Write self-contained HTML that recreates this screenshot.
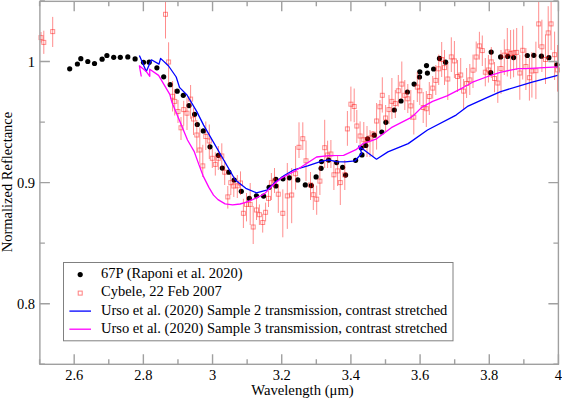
<!DOCTYPE html>
<html><head><meta charset="utf-8"><style>
html,body{margin:0;padding:0;background:#fff;width:562px;height:399px;overflow:hidden}
svg{display:block}
</style></head><body>
<svg width="562" height="399" viewBox="0 0 562 399">
<g fill="#000">
<circle cx="69.7" cy="68.8" r="2.6"/>
<circle cx="77.4" cy="64.0" r="2.6"/>
<circle cx="80.8" cy="58.7" r="2.6"/>
<circle cx="87.8" cy="61.5" r="2.6"/>
<circle cx="94.5" cy="63.5" r="2.6"/>
<circle cx="102.1" cy="59.2" r="2.6"/>
<circle cx="106.9" cy="55.5" r="2.6"/>
<circle cx="113.7" cy="57.3" r="2.6"/>
<circle cx="120.3" cy="57.3" r="2.6"/>
<circle cx="127.8" cy="56.9" r="2.6"/>
<circle cx="135.1" cy="58.9" r="2.6"/>
<circle cx="143.5" cy="62.3" r="2.6"/>
<circle cx="149.2" cy="62.2" r="2.6"/>
<circle cx="156.9" cy="67.8" r="2.6"/>
<circle cx="163.7" cy="76.8" r="2.6"/>
<circle cx="170.2" cy="84.7" r="2.6"/>
<circle cx="177.2" cy="91.2" r="2.6"/>
<circle cx="183.3" cy="95.3" r="2.6"/>
<circle cx="189.0" cy="105.6" r="2.6"/>
<circle cx="194.6" cy="114.3" r="2.6"/>
<circle cx="197.3" cy="124.5" r="2.6"/>
<circle cx="203.3" cy="130.9" r="2.6"/>
<circle cx="210.0" cy="146.8" r="2.6"/>
<circle cx="218.3" cy="155.3" r="2.6"/>
<circle cx="222.3" cy="168.1" r="2.6"/>
<circle cx="228.8" cy="172.2" r="2.6"/>
<circle cx="234.2" cy="180.0" r="2.6"/>
<circle cx="241.3" cy="191.3" r="2.6"/>
<circle cx="249.3" cy="198.4" r="2.6"/>
<circle cx="256.4" cy="195.8" r="2.6"/>
<circle cx="263.6" cy="196.1" r="2.6"/>
<circle cx="269.1" cy="187.3" r="2.6"/>
<circle cx="275.9" cy="179.3" r="2.6"/>
<circle cx="275.9" cy="186.0" r="2.6"/>
<circle cx="283.0" cy="178.8" r="2.6"/>
<circle cx="289.4" cy="177.8" r="2.6"/>
<circle cx="297.8" cy="179.9" r="2.6"/>
<circle cx="305.3" cy="184.9" r="2.6"/>
<circle cx="311.3" cy="185.6" r="2.6"/>
<circle cx="316.1" cy="176.9" r="2.6"/>
<circle cx="321.1" cy="168.3" r="2.6"/>
<circle cx="321.5" cy="161.6" r="2.6"/>
<circle cx="328.6" cy="160.1" r="2.6"/>
<circle cx="336.6" cy="162.6" r="2.6"/>
<circle cx="342.6" cy="167.3" r="2.6"/>
<circle cx="345.6" cy="175.1" r="2.6"/>
<circle cx="355.6" cy="160.3" r="2.6"/>
<circle cx="362.0" cy="154.9" r="2.6"/>
<circle cx="361.2" cy="147.8" r="2.6"/>
<circle cx="365.8" cy="145.5" r="2.6"/>
<circle cx="367.6" cy="138.8" r="2.6"/>
<circle cx="374.3" cy="135.2" r="2.6"/>
<circle cx="381.8" cy="132.0" r="2.6"/>
<circle cx="385.9" cy="122.3" r="2.6"/>
<circle cx="394.3" cy="110.0" r="2.6"/>
<circle cx="401.0" cy="101.0" r="2.6"/>
<circle cx="407.4" cy="92.0" r="2.6"/>
<circle cx="414.1" cy="84.1" r="2.6"/>
<circle cx="419.5" cy="77.0" r="2.6"/>
<circle cx="419.8" cy="71.8" r="2.6"/>
<circle cx="426.5" cy="65.6" r="2.6"/>
<circle cx="427.4" cy="73.1" r="2.6"/>
<circle cx="433.6" cy="69.0" r="2.6"/>
<circle cx="439.5" cy="58.4" r="2.6"/>
<circle cx="445.6" cy="62.2" r="2.6"/>
<circle cx="491.2" cy="52.1" r="2.6"/>
<circle cx="490.7" cy="72.7" r="2.6"/>
<circle cx="500.6" cy="56.9" r="2.6"/>
<circle cx="507.8" cy="56.4" r="2.6"/>
<circle cx="513.6" cy="57.6" r="2.6"/>
<circle cx="527.3" cy="55.5" r="2.6"/>
<circle cx="533.8" cy="55.3" r="2.6"/>
<circle cx="541.4" cy="56.2" r="2.6"/>
<circle cx="548.9" cy="57.7" r="2.6"/>
<circle cx="556.9" cy="64.8" r="2.6"/>
</g>
<g stroke="#ff0000" stroke-opacity="0.45" stroke-width="1" fill="none">
<line x1="41.0" y1="32.0" x2="41.0" y2="42.6"/>
<line x1="43.8" y1="30.7" x2="43.8" y2="53.9"/>
<line x1="52.7" y1="16.9" x2="52.7" y2="47.0"/>
<line x1="165.5" y1="1.0" x2="165.5" y2="38.5"/>
<line x1="168.6" y1="42.3" x2="168.6" y2="85.0"/>
<line x1="172.6" y1="81.0" x2="172.6" y2="111.5"/>
<line x1="174.7" y1="89.0" x2="174.7" y2="115.5"/>
<line x1="178.0" y1="100.0" x2="178.0" y2="123.0"/>
<line x1="181.0" y1="117.0" x2="181.0" y2="140.0"/>
<line x1="183.7" y1="100.8" x2="183.7" y2="125.6"/>
<line x1="187.0" y1="97.4" x2="187.0" y2="130.0"/>
<line x1="190.6" y1="85.0" x2="190.6" y2="118.8"/>
<line x1="193.5" y1="107.6" x2="193.5" y2="135.0"/>
<line x1="196.8" y1="120.0" x2="196.8" y2="153.0"/>
<line x1="199.8" y1="127.5" x2="199.8" y2="163.6"/>
<line x1="202.8" y1="144.8" x2="202.8" y2="177.0"/>
<line x1="205.8" y1="121.5" x2="205.8" y2="150.0"/>
<line x1="209.3" y1="124.5" x2="209.3" y2="159.0"/>
<line x1="212.3" y1="148.6" x2="212.3" y2="168.0"/>
<line x1="215.3" y1="152.3" x2="215.3" y2="175.6"/>
<line x1="218.3" y1="146.0" x2="218.3" y2="170.0"/>
<line x1="221.8" y1="143.3" x2="221.8" y2="169.6"/>
<line x1="224.7" y1="160.0" x2="224.7" y2="185.0"/>
<line x1="227.8" y1="186.0" x2="227.8" y2="208.6"/>
<line x1="230.8" y1="174.0" x2="230.8" y2="195.0"/>
<line x1="233.8" y1="176.0" x2="233.8" y2="197.0"/>
<line x1="237.3" y1="175.0" x2="237.3" y2="198.0"/>
<line x1="240.5" y1="171.4" x2="240.5" y2="195.0"/>
<line x1="243.4" y1="198.8" x2="243.4" y2="228.0"/>
<line x1="246.5" y1="193.0" x2="246.5" y2="221.4"/>
<line x1="250.2" y1="183.0" x2="250.2" y2="225.0"/>
<line x1="253.2" y1="206.0" x2="253.2" y2="244.0"/>
<line x1="256.5" y1="198.8" x2="256.5" y2="220.0"/>
<line x1="259.4" y1="204.4" x2="259.4" y2="225.0"/>
<line x1="262.7" y1="213.8" x2="262.7" y2="232.6"/>
<line x1="265.6" y1="202.6" x2="265.6" y2="221.4"/>
<line x1="268.5" y1="191.0" x2="268.5" y2="207.0"/>
<line x1="271.4" y1="173.0" x2="271.4" y2="200.0"/>
<line x1="274.5" y1="168.0" x2="274.5" y2="193.0"/>
<line x1="278.3" y1="183.8" x2="278.3" y2="212.9"/>
<line x1="282.8" y1="189.4" x2="282.8" y2="237.3"/>
<line x1="287.3" y1="163.0" x2="287.3" y2="228.9"/>
<line x1="291.7" y1="168.0" x2="291.7" y2="223.2"/>
<line x1="295.6" y1="146.0" x2="295.6" y2="189.6"/>
<line x1="299.0" y1="122.3" x2="299.0" y2="158.0"/>
<line x1="302.8" y1="122.3" x2="302.8" y2="150.0"/>
<line x1="306.0" y1="140.5" x2="306.0" y2="181.0"/>
<line x1="310.5" y1="172.0" x2="310.5" y2="200.0"/>
<line x1="313.3" y1="183.8" x2="313.3" y2="210.0"/>
<line x1="316.7" y1="185.6" x2="316.7" y2="214.8"/>
<line x1="319.9" y1="165.0" x2="319.9" y2="195.0"/>
<line x1="324.7" y1="119.8" x2="324.7" y2="168.0"/>
<line x1="327.6" y1="140.7" x2="327.6" y2="168.0"/>
<line x1="330.9" y1="140.0" x2="330.9" y2="168.0"/>
<line x1="333.9" y1="160.0" x2="333.9" y2="190.0"/>
<line x1="337.6" y1="155.0" x2="337.6" y2="186.0"/>
<line x1="340.3" y1="168.0" x2="340.3" y2="205.0"/>
<line x1="344.8" y1="160.0" x2="344.8" y2="190.0"/>
<line x1="347.4" y1="111.0" x2="347.4" y2="145.8"/>
<line x1="350.9" y1="86.6" x2="350.9" y2="121.4"/>
<line x1="354.2" y1="88.5" x2="354.2" y2="122.3"/>
<line x1="356.8" y1="110.0" x2="356.8" y2="143.0"/>
<line x1="360.1" y1="121.4" x2="360.1" y2="149.5"/>
<line x1="363.8" y1="122.0" x2="363.8" y2="150.0"/>
<line x1="367.0" y1="126.0" x2="367.0" y2="157.0"/>
<line x1="370.0" y1="130.0" x2="370.0" y2="157.0"/>
<line x1="373.0" y1="131.0" x2="373.0" y2="156.0"/>
<line x1="376.6" y1="103.0" x2="376.6" y2="149.6"/>
<line x1="379.9" y1="100.0" x2="379.9" y2="130.0"/>
<line x1="382.3" y1="77.3" x2="382.3" y2="112.6"/>
<line x1="385.6" y1="105.0" x2="385.6" y2="131.0"/>
<line x1="389.0" y1="95.0" x2="389.0" y2="124.0"/>
<line x1="391.9" y1="78.0" x2="391.9" y2="119.0"/>
<line x1="395.3" y1="90.0" x2="395.3" y2="118.0"/>
<line x1="398.3" y1="75.0" x2="398.3" y2="106.6"/>
<line x1="401.8" y1="61.5" x2="401.8" y2="99.0"/>
<line x1="404.8" y1="80.0" x2="404.8" y2="110.0"/>
<line x1="407.8" y1="84.0" x2="407.8" y2="113.0"/>
<line x1="410.8" y1="90.0" x2="410.8" y2="120.0"/>
<line x1="413.8" y1="100.0" x2="413.8" y2="134.5"/>
<line x1="417.3" y1="72.0" x2="417.3" y2="102.0"/>
<line x1="419.8" y1="76.0" x2="419.8" y2="105.0"/>
<line x1="423.2" y1="92.0" x2="423.2" y2="123.0"/>
<line x1="426.3" y1="91.0" x2="426.3" y2="127.0"/>
<line x1="429.3" y1="82.0" x2="429.3" y2="115.0"/>
<line x1="432.7" y1="76.0" x2="432.7" y2="98.6"/>
<line x1="435.8" y1="65.0" x2="435.8" y2="95.0"/>
<line x1="438.7" y1="54.6" x2="438.7" y2="85.0"/>
<line x1="441.7" y1="42.0" x2="441.7" y2="77.0"/>
<line x1="444.5" y1="50.0" x2="444.5" y2="85.0"/>
<line x1="447.8" y1="62.0" x2="447.8" y2="100.0"/>
<line x1="451.3" y1="37.3" x2="451.3" y2="72.0"/>
<line x1="454.4" y1="41.0" x2="454.4" y2="78.0"/>
<line x1="457.5" y1="60.0" x2="457.5" y2="92.0"/>
<line x1="460.7" y1="58.0" x2="460.7" y2="90.0"/>
<line x1="463.6" y1="79.0" x2="463.6" y2="109.0"/>
<line x1="466.6" y1="68.0" x2="466.6" y2="98.0"/>
<line x1="469.8" y1="64.0" x2="469.8" y2="95.0"/>
<line x1="473.0" y1="54.6" x2="473.0" y2="88.0"/>
<line x1="476.2" y1="41.5" x2="476.2" y2="71.6"/>
<line x1="479.4" y1="31.8" x2="479.4" y2="59.6"/>
<line x1="482.3" y1="35.5" x2="482.3" y2="66.0"/>
<line x1="485.3" y1="58.0" x2="485.3" y2="86.3"/>
<line x1="488.4" y1="55.0" x2="488.4" y2="82.6"/>
<line x1="491.3" y1="47.0" x2="491.3" y2="78.0"/>
<line x1="494.5" y1="62.0" x2="494.5" y2="92.3"/>
<line x1="497.8" y1="66.0" x2="497.8" y2="102.9"/>
<line x1="501.0" y1="50.0" x2="501.0" y2="93.8"/>
<line x1="504.3" y1="39.3" x2="504.3" y2="75.0"/>
<line x1="507.3" y1="28.0" x2="507.3" y2="76.5"/>
<line x1="510.6" y1="30.0" x2="510.6" y2="78.8"/>
<line x1="513.6" y1="29.5" x2="513.6" y2="77.3"/>
<line x1="516.7" y1="28.0" x2="516.7" y2="70.1"/>
<line x1="519.8" y1="55.0" x2="519.8" y2="99.8"/>
<line x1="522.7" y1="25.8" x2="522.7" y2="79.5"/>
<line x1="525.9" y1="48.0" x2="525.9" y2="90.0"/>
<line x1="529.4" y1="58.0" x2="529.4" y2="100.6"/>
<line x1="531.9" y1="52.0" x2="531.9" y2="97.6"/>
<line x1="535.9" y1="41.7" x2="535.9" y2="99.1"/>
<line x1="538.7" y1="1.0" x2="538.7" y2="48.0"/>
<line x1="541.9" y1="19.7" x2="541.9" y2="72.0"/>
<line x1="545.5" y1="34.4" x2="545.5" y2="84.0"/>
<line x1="548.2" y1="6.2" x2="548.2" y2="58.0"/>
<line x1="551.1" y1="1.0" x2="551.1" y2="50.0"/>
<line x1="554.6" y1="31.6" x2="554.6" y2="80.0"/>
<line x1="557.5" y1="45.0" x2="557.5" y2="91.6"/>
<rect x="39.0" y="35.6" width="4" height="4"/>
<rect x="41.8" y="40.4" width="4" height="4"/>
<rect x="50.7" y="29.6" width="4" height="4"/>
<rect x="163.5" y="12.3" width="4" height="4"/>
<rect x="166.6" y="60.0" width="4" height="4"/>
<rect x="170.6" y="94.3" width="4" height="4"/>
<rect x="172.7" y="99.4" width="4" height="4"/>
<rect x="176.0" y="109.5" width="4" height="4"/>
<rect x="179.0" y="125.8" width="4" height="4"/>
<rect x="181.7" y="107.6" width="4" height="4"/>
<rect x="185.0" y="111.2" width="4" height="4"/>
<rect x="188.6" y="97.1" width="4" height="4"/>
<rect x="191.5" y="117.0" width="4" height="4"/>
<rect x="194.8" y="133.0" width="4" height="4"/>
<rect x="197.8" y="148.0" width="4" height="4"/>
<rect x="200.8" y="163.9" width="4" height="4"/>
<rect x="203.8" y="134.5" width="4" height="4"/>
<rect x="207.3" y="139.0" width="4" height="4"/>
<rect x="210.3" y="156.3" width="4" height="4"/>
<rect x="213.3" y="162.4" width="4" height="4"/>
<rect x="216.3" y="156.3" width="4" height="4"/>
<rect x="219.8" y="154.0" width="4" height="4"/>
<rect x="222.7" y="170.2" width="4" height="4"/>
<rect x="225.8" y="194.9" width="4" height="4"/>
<rect x="228.8" y="180.7" width="4" height="4"/>
<rect x="231.8" y="184.0" width="4" height="4"/>
<rect x="235.3" y="183.8" width="4" height="4"/>
<rect x="238.5" y="181.0" width="4" height="4"/>
<rect x="241.4" y="211.3" width="4" height="4"/>
<rect x="244.5" y="202.4" width="4" height="4"/>
<rect x="248.2" y="202.4" width="4" height="4"/>
<rect x="251.2" y="225.0" width="4" height="4"/>
<rect x="254.5" y="208.0" width="4" height="4"/>
<rect x="257.4" y="212.7" width="4" height="4"/>
<rect x="260.7" y="220.5" width="4" height="4"/>
<rect x="263.6" y="210.3" width="4" height="4"/>
<rect x="266.5" y="196.4" width="4" height="4"/>
<rect x="269.4" y="180.7" width="4" height="4"/>
<rect x="272.5" y="179.0" width="4" height="4"/>
<rect x="276.3" y="192.2" width="4" height="4"/>
<rect x="280.8" y="211.3" width="4" height="4"/>
<rect x="285.3" y="193.9" width="4" height="4"/>
<rect x="289.7" y="193.0" width="4" height="4"/>
<rect x="293.6" y="171.7" width="4" height="4"/>
<rect x="297.0" y="145.3" width="4" height="4"/>
<rect x="300.8" y="136.7" width="4" height="4"/>
<rect x="304.0" y="158.8" width="4" height="4"/>
<rect x="308.5" y="183.0" width="4" height="4"/>
<rect x="311.3" y="192.7" width="4" height="4"/>
<rect x="314.7" y="197.2" width="4" height="4"/>
<rect x="317.9" y="179.1" width="4" height="4"/>
<rect x="322.7" y="145.7" width="4" height="4"/>
<rect x="325.6" y="153.0" width="4" height="4"/>
<rect x="328.9" y="152.0" width="4" height="4"/>
<rect x="331.9" y="172.8" width="4" height="4"/>
<rect x="335.6" y="168.9" width="4" height="4"/>
<rect x="338.3" y="180.6" width="4" height="4"/>
<rect x="342.8" y="172.8" width="4" height="4"/>
<rect x="345.4" y="126.9" width="4" height="4"/>
<rect x="348.9" y="102.2" width="4" height="4"/>
<rect x="352.2" y="104.5" width="4" height="4"/>
<rect x="354.8" y="124.0" width="4" height="4"/>
<rect x="358.1" y="134.0" width="4" height="4"/>
<rect x="361.8" y="137.8" width="4" height="4"/>
<rect x="365.0" y="138.0" width="4" height="4"/>
<rect x="368.0" y="136.0" width="4" height="4"/>
<rect x="371.0" y="132.0" width="4" height="4"/>
<rect x="374.6" y="119.0" width="4" height="4"/>
<rect x="377.9" y="104.8" width="4" height="4"/>
<rect x="380.3" y="93.3" width="4" height="4"/>
<rect x="383.6" y="116.0" width="4" height="4"/>
<rect x="387.0" y="107.6" width="4" height="4"/>
<rect x="389.9" y="99.4" width="4" height="4"/>
<rect x="393.3" y="101.6" width="4" height="4"/>
<rect x="396.3" y="88.8" width="4" height="4"/>
<rect x="399.8" y="82.1" width="4" height="4"/>
<rect x="402.8" y="93.3" width="4" height="4"/>
<rect x="405.8" y="96.8" width="4" height="4"/>
<rect x="408.8" y="103.9" width="4" height="4"/>
<rect x="411.8" y="115.2" width="4" height="4"/>
<rect x="415.3" y="85.1" width="4" height="4"/>
<rect x="417.8" y="88.8" width="4" height="4"/>
<rect x="421.2" y="105.5" width="4" height="4"/>
<rect x="424.3" y="106.7" width="4" height="4"/>
<rect x="427.3" y="94.5" width="4" height="4"/>
<rect x="430.7" y="86.1" width="4" height="4"/>
<rect x="433.8" y="78.4" width="4" height="4"/>
<rect x="436.7" y="66.8" width="4" height="4"/>
<rect x="439.7" y="57.5" width="4" height="4"/>
<rect x="442.5" y="65.6" width="4" height="4"/>
<rect x="445.8" y="77.0" width="4" height="4"/>
<rect x="449.3" y="54.9" width="4" height="4"/>
<rect x="452.4" y="58.9" width="4" height="4"/>
<rect x="455.5" y="74.5" width="4" height="4"/>
<rect x="458.7" y="73.0" width="4" height="4"/>
<rect x="461.6" y="89.1" width="4" height="4"/>
<rect x="464.6" y="81.5" width="4" height="4"/>
<rect x="467.8" y="77.9" width="4" height="4"/>
<rect x="471.0" y="68.2" width="4" height="4"/>
<rect x="474.2" y="55.0" width="4" height="4"/>
<rect x="477.4" y="43.9" width="4" height="4"/>
<rect x="480.3" y="48.6" width="4" height="4"/>
<rect x="483.3" y="70.2" width="4" height="4"/>
<rect x="486.4" y="68.0" width="4" height="4"/>
<rect x="489.3" y="59.9" width="4" height="4"/>
<rect x="492.5" y="76.5" width="4" height="4"/>
<rect x="495.8" y="81.0" width="4" height="4"/>
<rect x="499.0" y="66.5" width="4" height="4"/>
<rect x="502.3" y="53.1" width="4" height="4"/>
<rect x="505.3" y="49.9" width="4" height="4"/>
<rect x="508.6" y="51.6" width="4" height="4"/>
<rect x="511.6" y="50.8" width="4" height="4"/>
<rect x="514.7" y="50.4" width="4" height="4"/>
<rect x="517.8" y="71.0" width="4" height="4"/>
<rect x="520.7" y="48.3" width="4" height="4"/>
<rect x="523.9" y="64.5" width="4" height="4"/>
<rect x="527.4" y="75.7" width="4" height="4"/>
<rect x="529.9" y="69.0" width="4" height="4"/>
<rect x="533.9" y="68.7" width="4" height="4"/>
<rect x="536.7" y="21.9" width="4" height="4"/>
<rect x="539.9" y="44.8" width="4" height="4"/>
<rect x="543.5" y="57.5" width="4" height="4"/>
<rect x="546.2" y="30.9" width="4" height="4"/>
<rect x="549.1" y="21.9" width="4" height="4"/>
<rect x="552.6" y="52.7" width="4" height="4"/>
<rect x="555.5" y="67.9" width="4" height="4"/>
</g>
<polyline points="139.4,55.5 146.3,71.4 151.4,59.8 159.0,64.1 160.6,58.4 168.6,66.0 176.2,77.0 179.5,87.4 187.0,95.0 196.8,111.6 203.6,125.1 235.3,180.0 245.8,188.3 256.4,192.8 267.6,189.8 275.2,182.3 284.2,175.5 294.0,169.8 307.6,165.8 321.1,161.3 328.6,159.8 336.1,161.6 345.2,161.9 355.1,160.8 361.8,153.2 358.7,146.1 376.5,159.2 387.9,151.9 408.2,143.6 427.5,130.0 456.1,115.1 468.1,106.1 484.7,98.6 500.0,91.8 532.1,82.1 557.6,75.3" fill="none" stroke="#0000ff" stroke-width="1.3" stroke-linejoin="round"/>
<polyline points="141.3,76.5 139.4,65.8 146.0,71.2 149.8,76.3 149.7,69.2 158.6,75.4 169.8,94.3 172.0,102.6 179.5,120.6 187.5,140.0 194.1,151.3 198.8,164.4 203.0,175.6 206.0,181.6 209.0,187.6 213.5,195.1 218.0,199.6 225.1,203.9 232.6,204.8 240.0,204.0 245.0,202.6 252.6,199.6 260.0,196.2 264.6,193.6 273.6,184.5 281.9,177.8 295.0,171.0 316.6,157.0 328.6,155.6 343.6,155.3 356.0,149.7 363.1,143.5 371.1,140.8 376.6,138.8 391.3,127.7 409.9,118.1 413.8,115.3 421.7,107.4 432.6,101.4 447.0,95.8 463.6,87.3 472.6,82.2 487.7,76.5 500.1,72.3 518.2,68.6 526.0,68.6 557.6,66.8" fill="none" stroke="#ff00ff" stroke-width="1.3" stroke-linejoin="round"/>
<rect x="39.9" y="1.35" width="518.5" height="362.95" fill="none" stroke="#a0a0a0" stroke-width="1.4"/>
<path d="M39.60 364.3V359.3M39.60 1.35V6.35M74.19 364.3V354.3M74.19 1.35V11.35M108.78 364.3V359.3M108.78 1.35V6.35M143.37 364.3V354.3M143.37 1.35V11.35M177.96 364.3V359.3M177.96 1.35V6.35M212.55 364.3V354.3M212.55 1.35V11.35M247.14 364.3V359.3M247.14 1.35V6.35M281.73 364.3V354.3M281.73 1.35V11.35M316.32 364.3V359.3M316.32 1.35V6.35M350.91 364.3V354.3M350.91 1.35V11.35M385.50 364.3V359.3M385.50 1.35V6.35M420.09 364.3V354.3M420.09 1.35V11.35M454.68 364.3V359.3M454.68 1.35V6.35M489.27 364.3V354.3M489.27 1.35V11.35M523.86 364.3V359.3M523.86 1.35V6.35M558.45 364.3V354.3M558.45 1.35V11.35M39.9 364.24H44.9M558.4 364.24H553.4M39.9 303.70H49.9M558.4 303.70H548.4M39.9 243.17H44.9M558.4 243.17H553.4M39.9 182.63H49.9M558.4 182.63H548.4M39.9 122.10H44.9M558.4 122.10H553.4M39.9 61.56H49.9M558.4 61.56H548.4M39.9 1.02H44.9M558.4 1.02H553.4" stroke="#a0a0a0" stroke-width="1.4" fill="none"/>
<text x="74.2" y="379.5" font-family="'Liberation Serif', serif" font-size="14.5" text-anchor="middle">2.6</text>
<text x="143.4" y="379.5" font-family="'Liberation Serif', serif" font-size="14.5" text-anchor="middle">2.8</text>
<text x="212.5" y="379.5" font-family="'Liberation Serif', serif" font-size="14.5" text-anchor="middle">3</text>
<text x="281.7" y="379.5" font-family="'Liberation Serif', serif" font-size="14.5" text-anchor="middle">3.2</text>
<text x="350.9" y="379.5" font-family="'Liberation Serif', serif" font-size="14.5" text-anchor="middle">3.4</text>
<text x="420.1" y="379.5" font-family="'Liberation Serif', serif" font-size="14.5" text-anchor="middle">3.6</text>
<text x="489.3" y="379.5" font-family="'Liberation Serif', serif" font-size="14.5" text-anchor="middle">3.8</text>
<text x="558.4" y="379.5" font-family="'Liberation Serif', serif" font-size="14.5" text-anchor="middle">4</text>
<text x="35" y="66.6" font-family="'Liberation Serif', serif" font-size="14.5" text-anchor="end">1</text>
<text x="35" y="187.6" font-family="'Liberation Serif', serif" font-size="14.5" text-anchor="end">0.9</text>
<text x="35" y="308.7" font-family="'Liberation Serif', serif" font-size="14.5" text-anchor="end">0.8</text>
<text x="302.5" y="395.0" font-family="'Liberation Serif', serif" font-size="14.7" text-anchor="middle">Wavelength (μm)</text>
<text transform="translate(11.8,182) rotate(-90)" font-family="'Liberation Serif', serif" font-size="14.5" text-anchor="middle">Normalized Reflectance</text>
<rect x="63.5" y="262.5" width="389.5" height="78.3" fill="#fff" stroke="#808080" stroke-width="1"/>
<circle cx="80.2" cy="274.6" r="2.6" fill="#000"/>
<rect x="78.2" y="291.1" width="4" height="4" fill="none" stroke="#ff7f7f" stroke-width="1"/>
<line x1="69.4" y1="311.1" x2="91" y2="311.1" stroke="#0000ff" stroke-width="1.3"/>
<line x1="69.4" y1="329.2" x2="91" y2="329.2" stroke="#ff00ff" stroke-width="1.3"/>
<text x="101" y="278.0" font-family="'Liberation Serif', serif" font-size="14.5">67P (Raponi et al. 2020)</text>
<text x="101" y="296.2" font-family="'Liberation Serif', serif" font-size="14.5">Cybele, 22 Feb 2007</text>
<text x="101" y="314.5" font-family="'Liberation Serif', serif" font-size="14.5">Urso et al. (2020) Sample 2 transmission, contrast stretched</text>
<text x="101" y="332.8" font-family="'Liberation Serif', serif" font-size="14.5">Urso et al. (2020) Sample 3 transmission, contrast stretched</text>
</svg></body></html>
